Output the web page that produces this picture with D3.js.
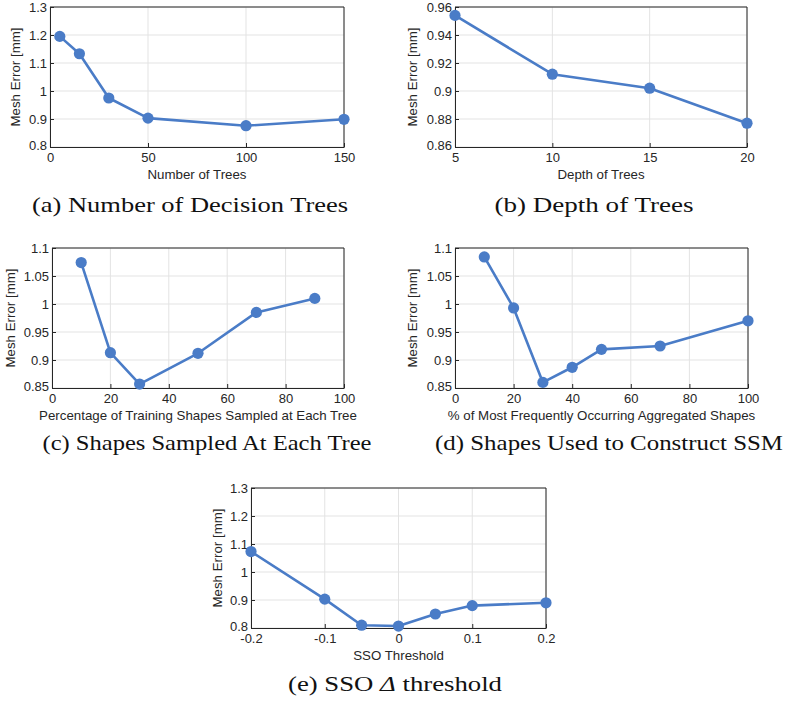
<!DOCTYPE html>
<html>
<head>
<meta charset="utf-8">
<script src="https://cdn.jsdelivr.net/npm/d3@7"></script>
<style>
  body { margin: 0; background: #fff; }
  svg { display: block; }
  .tick text { font-family: "Liberation Sans", Arial, sans-serif; font-size: 13px; fill: #262626; }
  .lbl { font-family: "Liberation Sans", Arial, sans-serif; font-size: 13.3px; fill: #262626; }
  .cap { font-family: "Liberation Serif", "DejaVu Serif", serif; font-size: 22px; fill: #111; }
</style>
</head>
<body>
<svg id="chart" width="787" height="702"></svg>
<script>
// Data
const treesX = [5, 15, 30, 50, 100, 150];
const treesY = [1.195, 1.133, 0.975, 0.903, 0.876, 0.899];

const depthX = [5, 10, 15, 20];
const depthY = [0.954, 0.912, 0.902, 0.877];

const sampledX = [10, 20, 30, 50, 70, 90];
const sampledY = [1.074, 0.913, 0.857, 0.912, 0.985, 1.010];

const aggX = [10, 20, 30, 40, 50, 70, 100];
const aggY = [1.084, 0.993, 0.860, 0.887, 0.919, 0.925, 0.970];

const ssoX = [-0.2, -0.1, -0.05, 0, 0.05, 0.1, 0.2];
const ssoY = [1.073, 0.903, 0.810, 0.807, 0.850, 0.880, 0.890];

// tick labels
const ticksXA = [0, 50, 100, 150];
const ticksYA = [0.8, 0.9, 1, 1.1, 1.2, 1.3];
const ticksXB = [5, 10, 15, 20];
const ticksYB = [0.86, 0.88, 0.9, 0.92, 0.94, 0.96];
const ticksXC = [0, 20, 40, 60, 80, 100];
const ticksYC = [0.85, 0.9, 0.95, 1, 1.05, 1.1];
const ticksXE = [-0.2, -0.1, 0, 0.1, 0.2];
const ticksYE = [0.8, 0.9, 1, 1.1, 1.2, 1.3];

const BLUE = '#4a7cc7';
const svg = d3.select('#chart');

// layout of each subplot (plot box in pixels)
const panels = [
  { x: treesX, y: treesY, xt: ticksXA, yt: ticksYA, xd: [0, 150], yd: [0.8, 1.3],
    box: [50, 7, 344, 147], xlabel: 'Number of Trees', ylx: 15,
    cap: ['(a) Number of Decision Trees'], capX: 190, capY: 212, capW: 316 },
  { x: depthX, y: depthY, xt: ticksXB, yt: ticksYB, xd: [5, 20], yd: [0.86, 0.96],
    box: [455, 7, 747, 147], xlabel: 'Depth of Trees', ylx: 412,
    cap: ['(b) Depth of Trees'], capX: 594, capY: 212, capW: 199 },
  { x: sampledX, y: sampledY, xt: ticksXC, yt: ticksYC, xd: [0, 100], yd: [0.85, 1.1],
    box: [52, 248, 344, 388], xlabel: 'Percentage of Training Shapes Sampled at Each Tree', ylx: 10,
    cap: ['(c) Shapes Sampled At Each Tree'], capX: 207, capY: 450, capW: 329 },
  { x: aggX, y: aggY, xt: ticksXC, yt: ticksYC, xd: [0, 100], yd: [0.85, 1.1],
    box: [455, 248, 748, 388], xlabel: '% of Most Frequently Occurring Aggregated Shapes', ylx: 412,
    cap: ['(d) Shapes Used to Construct SSM'], capX: 609, capY: 450, capW: 348 },
  { x: ssoX, y: ssoY, xt: ticksXE, yt: ticksYE, xd: [-0.2, 0.2], yd: [0.8, 1.3],
    box: [251, 488, 546, 628], xlabel: 'SSO Threshold', ylx: 217,
    cap: ['(e) SSO ', 'Δ', ' threshold'], capX: 395, capY: 691, capW: 214 }
];

const fmt = v => String(+v.toFixed(4));

panels.forEach(p => {
  const [x0, y0, x1, y1] = p.box;
  const xs = d3.scaleLinear().domain(p.xd).range([x0, x1]);
  const ys = d3.scaleLinear().domain(p.yd).range([y1, y0]);
  const g = svg.append('g');

  // grid
  g.append('g').selectAll('line').data(p.xt).enter().append('line')
    .attr('x1', d => xs(d)).attr('x2', d => xs(d)).attr('y1', y0).attr('y2', y1)
    .attr('stroke', '#e3e3e3').attr('stroke-width', 1);
  g.append('g').selectAll('line').data(p.yt).enter().append('line')
    .attr('y1', d => ys(d)).attr('y2', d => ys(d)).attr('x1', x0).attr('x2', x1)
    .attr('stroke', '#e3e3e3').attr('stroke-width', 1);

  // axes
  const xa = g.append('g').attr('transform', `translate(0,${y1})`)
    .call(d3.axisBottom(xs).tickValues(p.xt).tickFormat(fmt).tickSizeInner(-4).tickSizeOuter(0).tickPadding(6));
  const ya = g.append('g').attr('transform', `translate(${x0},0)`)
    .call(d3.axisLeft(ys).tickValues(p.yt).tickFormat(fmt).tickSizeInner(-4).tickSizeOuter(0).tickPadding(3));
  [xa, ya].forEach(a => {
    a.select('.domain').attr('stroke', '#262626');
    a.selectAll('.tick line').attr('stroke', '#262626');
  });
  // the bottom y label sits a bit higher, as in the figure
  ya.selectAll('.tick text').filter(d => d === p.yd[0]).attr('dy', '0.2em');

  // top / right box
  g.append('path')
    .attr('d', `M${x0},${y0}H${x1}V${y1}`)
    .attr('fill', 'none').attr('stroke', '#262626').attr('stroke-width', 1);

  // series
  const pts = p.x.map((v, i) => [v, p.y[i]]);
  g.append('path').datum(pts)
    .attr('d', d3.line().x(d => xs(d[0])).y(d => ys(d[1])))
    .attr('fill', 'none').attr('stroke', BLUE).attr('stroke-width', 2.6)
    .attr('stroke-linejoin', 'round');
  g.append('g').selectAll('circle').data(pts).enter().append('circle')
    .attr('cx', d => xs(d[0])).attr('cy', d => ys(d[1])).attr('r', 5.6)
    .attr('fill', BLUE);

  // labels
  g.append('text').attr('class', 'lbl')
    .attr('x', (x0 + x1) / 2).attr('y', y1 + 32).attr('text-anchor', 'middle')
    .text(p.xlabel);
  g.append('text').attr('class', 'lbl')
    .attr('transform', `translate(${p.ylx + 5},${(y0 + y1) / 2}) rotate(-90)`)
    .attr('text-anchor', 'middle').text('Mesh Error [mm]');

  const cap = g.append('text').attr('class', 'cap')
    .attr('x', p.capX).attr('y', p.capY).attr('text-anchor', 'middle')
    .attr('textLength', p.capW).attr('lengthAdjust', 'spacingAndGlyphs');
  p.cap.forEach(s => {
    cap.append('tspan').text(s).attr('font-style', s === 'Δ' ? 'italic' : null);
  });
});
</script>
</body>
</html>
